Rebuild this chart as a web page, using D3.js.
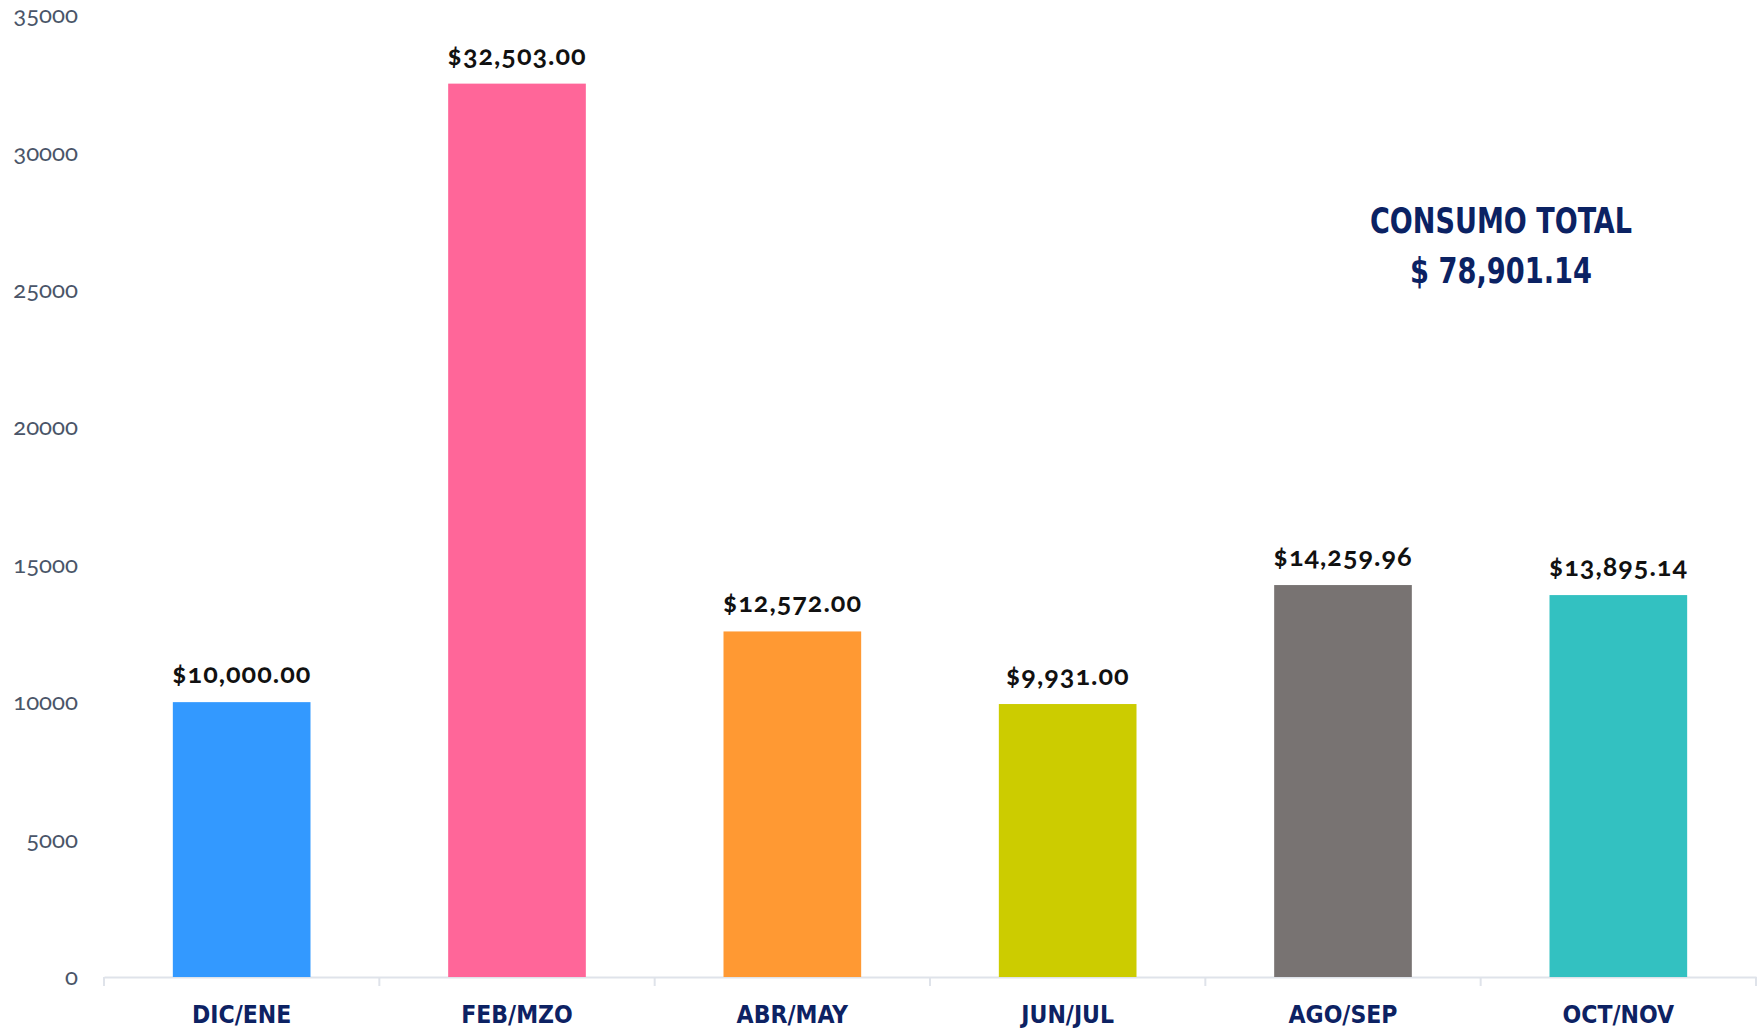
<!DOCTYPE html>
<html>
<head>
<meta charset="utf-8">
<script src="https://cdn.jsdelivr.net/npm/d3@7"></script>
<style>
  html, body { margin: 0; padding: 0; background: #ffffff; }
  svg { display: block; }
</style>
</head>
<body>
<svg id="chart" width="1759" height="1030"></svg>
<script>
const categories = ["DIC/ENE", "FEB/MZO", "ABR/MAY", "JUN/JUL", "AGO/SEP", "OCT/NOV"];
const values = [10000.00, 32503.00, 12572.00, 9931.00, 14259.96, 13895.14];
const valueLabels = ["$10,000.00", "$32,503.00", "$12,572.00", "$9,931.00", "$14,259.96", "$13,895.14"];
const colors = ["#3399ff", "#ff6699", "#ff9933", "#cccc00", "#787372", "#33c1c1"];
const yTicks = [0, 5000, 10000, 15000, 20000, 25000, 30000, 35000];
const titleLines = ["CONSUMO TOTAL", "$ 78,901.14"];
const titleWidths = [262, 182];

const svg = d3.select("#chart");
const margin = { left: 104, right: 3, top: 15, bottom: 53 };
const W = 1759, H = 1030;

const x = d3.scaleBand()
  .domain(categories)
  .range([margin.left, W - margin.right])
  .paddingInner(0.5)
  .paddingOuter(0.25);

const y = d3.scaleLinear()
  .domain([0, 35000])
  .range([H - margin.bottom, margin.top]);

// y axis labels
const yAxis = d3.axisLeft(y).tickValues(yTicks).tickSize(0).tickPadding(26).tickFormat(d3.format("d"));
const gy = svg.append("g").attr("transform", `translate(${margin.left},0)`).call(yAxis);
gy.select(".domain").remove();
gy.selectAll("text")
  .attr("font-family", "Lato, 'Open Sans', sans-serif")
  .attr("font-size", 24)
  .attr("fill", "#4a5568")
  .style("font-variant-numeric", "oldstyle-nums");

// x axis
const xAxis = d3.axisBottom(x).tickSize(0).tickPadding(28);
const gx = svg.append("g").attr("transform", `translate(0,${y(0)})`).call(xAxis);
gx.select(".domain").attr("stroke", "#dfe3ea").attr("stroke-width", 2);
gx.selectAll(".tick line").remove();
gx.selectAll("text")
  .attr("font-family", "'Liberation Sans Narrow', 'DejaVu Sans Condensed', sans-serif")
  .attr("font-weight", "bold")
  .attr("font-size", 24.5)
  .attr("fill", "#0d2263")
  .attr("dy", "0.75em");

// band boundary ticks
const boundaries = d3.range(categories.length + 1).map(i => margin.left + i * ((W - margin.right - margin.left) / categories.length));
gx.selectAll("line.bound")
  .data(boundaries)
  .join("line")
  .attr("class", "bound")
  .attr("x1", d => d).attr("x2", d => d)
  .attr("y1", 0).attr("y2", 9)
  .attr("stroke", "#dfe3ea").attr("stroke-width", 2);

// bars
svg.append("g").selectAll("rect")
  .data(values)
  .join("rect")
  .attr("x", (d, i) => x(categories[i]))
  .attr("width", x.bandwidth())
  .attr("y", d => y(d))
  .attr("height", d => y(0) - y(d))
  .attr("fill", (d, i) => colors[i]);

// value labels
svg.append("g").selectAll("text")
  .data(values)
  .join("text")
  .attr("x", (d, i) => x(categories[i]) + x.bandwidth() / 2)
  .attr("y", d => y(d) - 19)
  .attr("text-anchor", "middle")
  .attr("font-family", "Lato, 'Open Sans', sans-serif")
  .attr("font-weight", "bold")
  .attr("font-size", 27)
  .attr("letter-spacing", 1)
  .attr("fill", "#111111")
  .style("font-variant-numeric", "oldstyle-nums")
  .text((d, i) => valueLabels[i]);

// title annotation
svg.append("g").selectAll("text")
  .data(titleLines)
  .join("text")
  .attr("x", 1501)
  .attr("y", (d, i) => 233 + i * 50)
  .attr("text-anchor", "middle")
  .attr("font-family", "'Liberation Sans Narrow', 'DejaVu Sans Condensed', sans-serif")
  .attr("font-weight", "bold")
  .attr("font-size", 36)
  .attr("textLength", (d, i) => titleWidths[i])
  .attr("lengthAdjust", "spacingAndGlyphs")
  .attr("fill", "#0b2263")
  .text(d => d);
</script>
</body>
</html>
